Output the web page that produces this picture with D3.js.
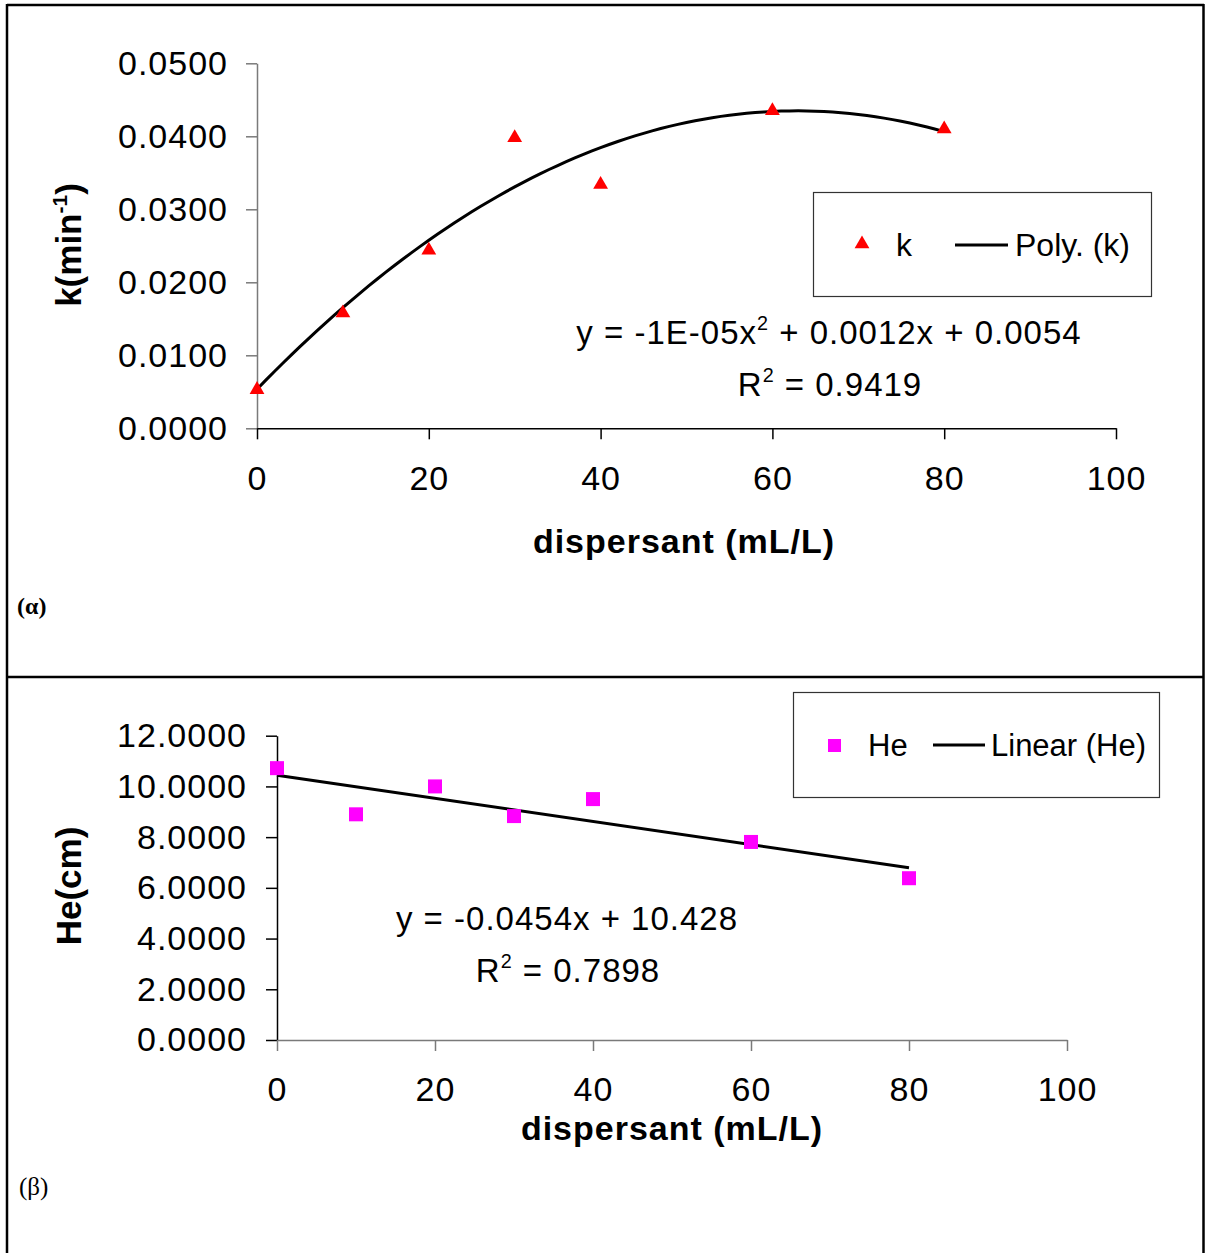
<!DOCTYPE html>
<html><head><meta charset="utf-8">
<script src="https://cdn.jsdelivr.net/npm/d3@7"></script>
<style>
body{margin:0;background:#fff}
svg{display:block}
text{font-family:"Liberation Sans",Arial,sans-serif;fill:#000}
</style></head>
<body><svg id="c" width="1205" height="1253"></svg>
<script>
// ---- data ----
const dispersant = [0, 10, 20, 30, 40, 60, 80];
const kValues    = [0.0053, 0.0158, 0.0244, 0.0398, 0.0334, 0.0435, 0.0410];
const heValues   = [10.72, 8.90, 10.00, 8.83, 9.50, 7.81, 6.38];
const xTickValues  = [0, 20, 40, 60, 80, 100];
const kTickValues  = [0, 0.01, 0.02, 0.03, 0.04, 0.05];
const heTickValues = [0, 2, 4, 6, 8, 10, 12];
const kEqParts  = [["y = -1E-05x", false], ["2", true], [" + 0.0012x + 0.0054", false]];
const kR2Parts  = [["R", false], ["2", true], [" = 0.9419", false]];
const heEqParts = [["y = -0.0454x + 10.428", false]];
const heR2Parts = [["R", false], ["2", true], [" = 0.7898", false]];
const kLegend  = ["k", "Poly. (k)"];
const heLegend = ["He", "Linear (He)"];
const xTitle = "dispersant (mL/L)";

// ---- fits ----
function polyfit2(xs, ys){
  const S=[0,0,0,0,0], T=[0,0,0];
  xs.forEach((x,i)=>{for(let p=0;p<5;p++)S[p]+=Math.pow(x,p);for(let p=0;p<3;p++)T[p]+=ys[i]*Math.pow(x,p);});
  const M=[[S[0],S[1],S[2]],[S[1],S[2],S[3]],[S[2],S[3],S[4]]];
  const det=m=>m[0][0]*(m[1][1]*m[2][2]-m[1][2]*m[2][1])-m[0][1]*(m[1][0]*m[2][2]-m[1][2]*m[2][0])+m[0][2]*(m[1][0]*m[2][1]-m[1][1]*m[2][0]);
  const D=det(M);
  return [0,1,2].map(j=>{const m=M.map((r,i)=>r.map((v,k)=>k===j?T[i]:v));return det(m)/D;});
}
function linfit(xs, ys){
  const mx=d3.mean(xs), my=d3.mean(ys);
  let sxy=0,sxx=0; xs.forEach((x,i)=>{sxy+=(x-mx)*(ys[i]-my);sxx+=(x-mx)*(x-mx);});
  const b=sxy/sxx; return [my-b*mx, b];
}

const svg = d3.select("#c");
svg.append("rect").attr("width",1205).attr("height",1253).attr("fill","#fff");

// frame
const frame = svg.append("g").attr("stroke","#000").attr("stroke-width",2.5);
frame.append("line").attr("x1",7).attr("x2",1204).attr("y1",5).attr("y2",5);
frame.append("line").attr("x1",7).attr("x2",7).attr("y1",4).attr("y2",1253);
frame.append("line").attr("x1",1203.5).attr("x2",1203.5).attr("y1",4).attr("y2",1253);
frame.append("line").attr("x1",7).attr("x2",1204).attr("y1",677).attr("y2",677);

function addText(g, parts, x, y, size, anchor){
  const t = g.append("text").attr("x",x).attr("y",y).attr("text-anchor",anchor||"start")
    .attr("font-size",size).attr("letter-spacing","1px");
  let raised=false;
  parts.forEach(([s,sup])=>{
    const ts = t.append("tspan").text(s);
    if(sup){ ts.attr("font-size",size*0.6).attr("dy",-size*0.42); raised=true; }
    else if(raised){ ts.attr("dy",size*0.42); raised=false; }
  });
  return t;
}

function styleAxis(g, lineColor){
  g.select(".domain").attr("stroke",lineColor).attr("stroke-width",1.5);
  g.selectAll(".tick line").attr("stroke",lineColor).attr("stroke-width",1.5);
  g.selectAll(".tick text").attr("font-size",34).attr("letter-spacing","1px")
    .attr("font-family","'Liberation Sans',Arial,sans-serif").attr("fill","#000");
}

// ================= top chart =================
{
  const g = svg.append("g");
  const x = d3.scaleLinear().domain([0,100]).range([257,1116]);
  const y = d3.scaleLinear().domain([0,0.05]).range([428.3,63.3]);

  const ya = g.append("g").attr("transform",`translate(${x(0)},0)`)
    .call(d3.axisLeft(y).tickValues(kTickValues).tickSize(11).tickSizeOuter(0).tickPadding(18).tickFormat(d=>d.toFixed(4)));
  styleAxis(ya,"#7a7a7a");
  const xa = g.append("g").attr("transform",`translate(0,${y(0)})`)
    .call(d3.axisBottom(x).tickValues(xTickValues).tickSize(11).tickSizeOuter(0).tickPadding(27).tickFormat(d3.format("d")));
  styleAxis(xa,"#000");

  // trendline (least-squares quadratic of the data)
  const c = polyfit2(dispersant, kValues);
  const xs = d3.range(0, 80.01, 1);
  g.append("path").datum(xs).attr("fill","none").attr("stroke","#000").attr("stroke-width",3)
    .attr("d", d3.line().x(d=>x(d)).y(d=>y(c[0]+c[1]*d+c[2]*d*d)));

  const tri = d3.symbol().type(d3.symbolTriangle).size(95);
  g.selectAll(".k").data(dispersant).join("path")
    .attr("transform",(d,i)=>`translate(${x(d)},${y(kValues[i])})`)
    .attr("d",tri).attr("fill","#ff0000");

  const lg = g.append("g");
  lg.append("rect").attr("x",813.5).attr("y",192.5).attr("width",338).attr("height",104)
    .attr("fill","#fff").attr("stroke","#333").attr("stroke-width",1.2);
  lg.append("path").attr("transform","translate(862,244)").attr("d",tri).attr("fill","#ff0000");
  lg.append("text").attr("x",896).attr("y",256).attr("font-size",32).text(kLegend[0]);
  lg.append("line").attr("x1",955).attr("x2",1008).attr("y1",245).attr("y2",245).attr("stroke","#000").attr("stroke-width",3);
  lg.append("text").attr("x",1015).attr("y",256).attr("font-size",32).text(kLegend[1]);

  addText(g, kEqParts, 829, 344, 33, "middle");
  addText(g, kR2Parts, 830, 396, 33, "middle");

  g.append("text").attr("x",684).attr("y",553).attr("text-anchor","middle").attr("font-size",34)
    .attr("font-weight","bold").attr("letter-spacing","1px").text(xTitle);
  const yt = g.append("text").attr("transform","translate(81,245) rotate(-90)").attr("text-anchor","middle")
    .attr("font-size",35).attr("font-weight","bold");
  yt.append("tspan").text("k(min");
  yt.append("tspan").attr("font-size",21).attr("dy",-14).text("-1");
  yt.append("tspan").attr("dy",14).text(")");

  g.append("text").attr("x",17).attr("y",614).attr("font-size",24).attr("font-weight","bold")
    .style("font-family","'Liberation Serif','Times New Roman',serif").text("(α)");
}

// ================= bottom chart =================
{
  const g = svg.append("g");
  const x = d3.scaleLinear().domain([0,100]).range([277,1067]);
  const y = d3.scaleLinear().domain([0,12]).range([1040,735.7]);

  const ya = g.append("g").attr("transform",`translate(${x(0)},0)`)
    .call(d3.axisLeft(y).tickValues(heTickValues).tickSize(11).tickSizeOuter(0).tickPadding(19).tickFormat(d=>d.toFixed(4)));
  styleAxis(ya,"#000");
  const xa = g.append("g").attr("transform",`translate(0,${y(0)})`)
    .call(d3.axisBottom(x).tickValues(xTickValues).tickSize(11).tickSizeOuter(0).tickPadding(26).tickFormat(d3.format("d")));
  styleAxis(xa,"#7a7a7a");

  const [a,b] = linfit(dispersant, heValues);
  g.append("line").attr("x1",x(0)).attr("x2",x(80)).attr("y1",y(a)).attr("y2",y(a+b*80))
    .attr("stroke","#000").attr("stroke-width",3);

  g.selectAll(".he").data(dispersant).join("rect")
    .attr("x",d=>x(d)-7).attr("y",(d,i)=>y(heValues[i])-7).attr("width",14).attr("height",14)
    .attr("fill","#ff00ff");

  const lg = g.append("g");
  lg.append("rect").attr("x",793.5).attr("y",692.5).attr("width",366).attr("height",105)
    .attr("fill","#fff").attr("stroke","#333").attr("stroke-width",1.2);
  lg.append("rect").attr("x",828).attr("y",739).attr("width",13).attr("height",13).attr("fill","#ff00ff");
  lg.append("text").attr("x",868).attr("y",756).attr("font-size",31).text(heLegend[0]);
  lg.append("line").attr("x1",933).attr("x2",985).attr("y1",745).attr("y2",745).attr("stroke","#000").attr("stroke-width",3);
  lg.append("text").attr("x",991).attr("y",756).attr("font-size",31).text(heLegend[1]);

  addText(g, heEqParts, 567, 930, 33, "middle");
  addText(g, heR2Parts, 568, 982, 33, "middle");

  g.append("text").attr("x",672).attr("y",1140).attr("text-anchor","middle").attr("font-size",34)
    .attr("font-weight","bold").attr("letter-spacing","1px").text(xTitle);
  g.append("text").attr("transform","translate(81,886) rotate(-90)").attr("text-anchor","middle")
    .attr("font-size",35).attr("font-weight","bold").text("He(cm)");

  g.append("text").attr("x",19).attr("y",1195).attr("font-size",25)
    .style("font-family","'Liberation Serif','Times New Roman',serif").text("(β)");
}
</script></body></html>
